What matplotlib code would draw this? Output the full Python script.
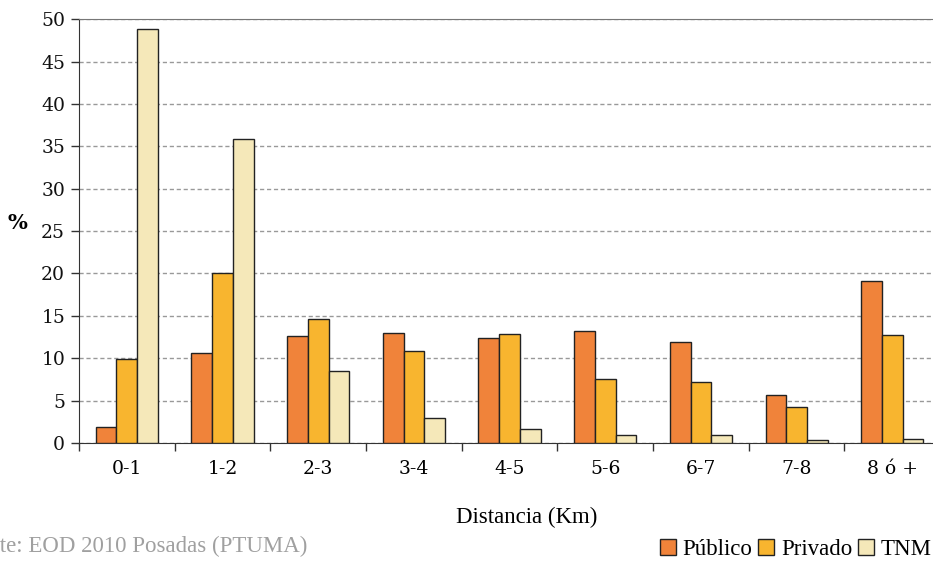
import numpy as np
import matplotlib
matplotlib.use("Agg")
import matplotlib.pyplot as plt

plt.rcParams["font.family"] = ["Liberation Serif", "DejaVu Serif"]

categories = ["0-1", "1-2", "2-3", "3-4", "4-5", "5-6", "6-7", "7-8", "8 ó +"]
publico = [1.9, 10.6, 12.6, 13.0, 12.4, 13.2, 11.9, 5.7, 19.1]
privado = [9.9, 20.0, 14.6, 10.8, 12.9, 7.6, 7.2, 4.3, 12.7]
tnm = [48.8, 35.9, 8.5, 2.9, 1.6, 0.9, 0.9, 0.3, 0.5]
series_names = ["Público", "Privado", "TNM"]
colors = ["#F0833A", "#F8B52F", "#F5E8B9"]

fig = plt.figure(figsize=(9.33, 5.65), dpi=100)
ax = fig.add_axes([0.0847, 0.216, 0.923, 0.750])

x = np.arange(len(categories))
w = 0.217
for i, (vals, name, c) in enumerate(zip([publico, privado, tnm], series_names, colors)):
    ax.bar(x + (i - 1) * w, vals, width=w, color=c, edgecolor="#222222",
           linewidth=1.0, label=name, zorder=3)

ax.set_xlim(-0.5, len(categories) - 0.5)
ax.set_ylim(0, 50)
ax.set_yticks(np.arange(0, 51, 5))
ax.yaxis.grid(True, linestyle=(0, (3, 2)), color="#999999", linewidth=1.0, zorder=0)
ax.set_axisbelow(True)

ax.set_xticks(x)
ax.set_xticklabels(categories, fontsize=13.5, family="DejaVu Serif")
ax.set_xticks(np.arange(-0.5, len(categories), 1), minor=True)
ax.tick_params(axis="x", which="major", length=0, pad=12)
ax.tick_params(axis="x", which="minor", length=6, width=1, color="#333333", direction="out")
ax.tick_params(axis="y", labelsize=13.5, length=6, width=1, color="#333333", pad=4,
               labelcolor="#111111")
for lbl in ax.get_yticklabels():
    lbl.set_family("DejaVu Serif")

ax.spines["right"].set_visible(False)
ax.spines["top"].set_color("#777777")
ax.spines["left"].set_color("#333333")
ax.spines["bottom"].set_color("#333333")

ax.set_ylabel("%", fontsize=15, fontweight="bold", rotation=0, va="center",
              family="DejaVu Serif")
ax.yaxis.set_label_coords(-0.072, 0.52)
ax.set_xlabel("Distancia (Km)", fontsize=16.5)
ax.xaxis.set_label_coords(0.52, -0.175)
ax.xaxis.label.set_va("center")

fig.text(-0.049, 0.032, "Fuente: EOD 2010 Posadas (PTUMA)", fontsize=16.5,
         color="#a0a0a0", ha="left", va="center")

handles, labels = ax.get_legend_handles_labels()
fig.legend(handles, labels, loc="center right", bbox_to_anchor=(0.999, 0.028), ncol=3,
           frameon=False, fontsize=16.5, handlelength=0.7, handleheight=0.7,
           handletextpad=0.3, columnspacing=0.25, borderaxespad=0, borderpad=0)

fig.savefig("out.png", dpi=100)
